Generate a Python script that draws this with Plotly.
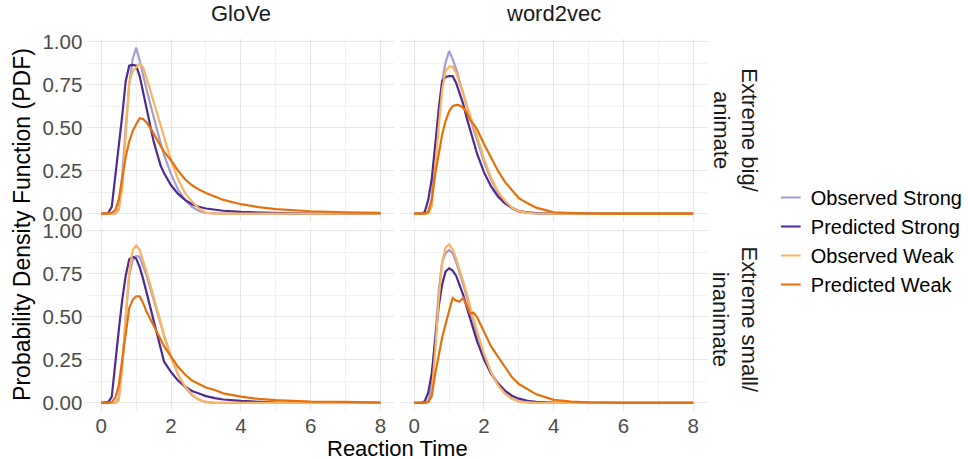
import plotly.graph_objects as go
from plotly.subplots import make_subplots

# ---------------- data ----------------
reaction_time = [0, 0.2, 0.3, 0.4, 0.5, 0.6, 0.7, 0.8, 0.9, 1.0, 1.1, 1.2, 1.3, 1.4, 1.5, 1.6, 1.7, 1.8,
                 2.0, 2.2, 2.4, 2.6, 2.8, 3.0, 3.25, 3.5, 4.0, 4.5, 5.0, 5.5, 6.0, 7.0, 8.0]

models = ["GloVe", "word2vec"]
conditions = ["Extreme big/<br>animate", "Extreme small/<br>inanimate"]
series_names = ["Observed Strong", "Predicted Strong", "Observed Weak", "Predicted Weak"]

# GloVe, Extreme big/animate
glove_big_obs_strong = [0, 0, 0, 0, 0.03, 0.22, 0.5, 0.75, 0.9, 0.965, 0.89, 0.8, 0.72, 0.64, 0.56, 0.48, 0.41, 0.34,
                        0.23, 0.14, 0.08, 0.04, 0.015, 0.004, 0.001, 0, 0, 0, 0, 0, 0, 0, 0]
glove_big_pred_strong = [0, 0.005, 0.04, 0.21, 0.39, 0.57, 0.77, 0.86, 0.865, 0.86, 0.8, 0.7, 0.6, 0.5, 0.42, 0.35, 0.28, 0.235,
                         0.165, 0.115, 0.08, 0.055, 0.04, 0.03, 0.022, 0.017, 0.01, 0.006, 0.003, 0.002, 0.001, 0, 0]
glove_big_obs_weak = [0, 0, 0, 0, 0.02, 0.15, 0.45, 0.76, 0.83, 0.85, 0.872, 0.85, 0.79, 0.72, 0.65, 0.58, 0.51, 0.44,
                      0.31, 0.2, 0.12, 0.07, 0.03, 0.005, 0, 0, 0, 0, 0, 0, 0, 0, 0]
glove_big_pred_weak = [0, 0, 0.005, 0.02, 0.08, 0.22, 0.33, 0.42, 0.48, 0.52, 0.555, 0.55, 0.53, 0.5, 0.465, 0.43, 0.39, 0.36,
                       0.31, 0.25, 0.2, 0.165, 0.14, 0.12, 0.1, 0.08, 0.055, 0.038, 0.026, 0.019, 0.014, 0.008, 0.004]

# word2vec, Extreme big/animate
w2v_big_obs_strong = [0, 0, 0, 0.005, 0.08, 0.35, 0.6, 0.77, 0.88, 0.945, 0.9, 0.84, 0.77, 0.69, 0.62, 0.55, 0.49, 0.43,
                      0.30, 0.2, 0.12, 0.065, 0.03, 0.012, 0.004, 0.001, 0, 0, 0, 0, 0, 0, 0]
w2v_big_pred_strong = [0, 0, 0.01, 0.08, 0.2, 0.42, 0.6, 0.77, 0.795, 0.8, 0.8, 0.76, 0.7, 0.64, 0.56, 0.49, 0.42, 0.35,
                       0.24, 0.16, 0.1, 0.06, 0.035, 0.015, 0.007, 0.003, 0.001, 0, 0, 0, 0, 0, 0]
w2v_big_obs_weak = [0, 0, 0, 0, 0.04, 0.25, 0.5, 0.72, 0.83, 0.855, 0.855, 0.82, 0.76, 0.7, 0.63, 0.57, 0.51, 0.45,
                    0.32, 0.21, 0.13, 0.075, 0.035, 0.015, 0.005, 0.001, 0, 0, 0, 0, 0, 0, 0]
w2v_big_pred_weak = [0, 0, 0, 0.01, 0.08, 0.23, 0.34, 0.46, 0.54, 0.595, 0.625, 0.632, 0.63, 0.615, 0.59, 0.545, 0.52, 0.49,
                     0.405, 0.325, 0.25, 0.185, 0.135, 0.09, 0.06, 0.035, 0.008, 0.003, 0.001, 0, 0, 0, 0]

# GloVe, Extreme small/inanimate
glove_small_obs_strong = [0, 0, 0, 0, 0.03, 0.22, 0.5, 0.74, 0.83, 0.855, 0.85, 0.8, 0.74, 0.67, 0.6, 0.53, 0.46, 0.39,
                          0.27, 0.165, 0.09, 0.045, 0.018, 0.005, 0.001, 0, 0, 0, 0, 0, 0, 0, 0]
glove_small_pred_strong = [0, 0.005, 0.035, 0.21, 0.42, 0.6, 0.74, 0.835, 0.85, 0.84, 0.79, 0.72, 0.64, 0.56, 0.47, 0.39, 0.31, 0.24,
                           0.18, 0.13, 0.095, 0.07, 0.055, 0.04, 0.028, 0.02, 0.012, 0.005, 0.002, 0.001, 0, 0, 0]
glove_small_obs_weak = [0, 0, 0, 0, 0.015, 0.2, 0.5, 0.76, 0.89, 0.915, 0.89, 0.83, 0.76, 0.69, 0.62, 0.55, 0.47, 0.39,
                        0.265, 0.165, 0.095, 0.05, 0.02, 0.006, 0, 0, 0, 0, 0, 0, 0, 0, 0]
glove_small_pred_weak = [0, 0, 0.005, 0.03, 0.1, 0.26, 0.4, 0.55, 0.6, 0.62, 0.62, 0.58, 0.53, 0.49, 0.45, 0.41, 0.37, 0.33,
                         0.27, 0.21, 0.165, 0.13, 0.11, 0.09, 0.075, 0.056, 0.037, 0.024, 0.016, 0.011, 0.008, 0.006, 0.002]

# word2vec, Extreme small/inanimate
w2v_small_obs_strong = [0, 0, 0, 0.01, 0.1, 0.38, 0.65, 0.82, 0.87, 0.89, 0.87, 0.82, 0.76, 0.69, 0.62, 0.55, 0.47, 0.4,
                        0.28, 0.18, 0.105, 0.055, 0.025, 0.01, 0.003, 0, 0, 0, 0, 0, 0, 0, 0]
w2v_small_pred_strong = [0, 0, 0.01, 0.06, 0.17, 0.38, 0.56, 0.69, 0.765, 0.783, 0.77, 0.74, 0.69, 0.63, 0.56, 0.49, 0.43, 0.36,
                         0.254, 0.17, 0.115, 0.072, 0.042, 0.025, 0.013, 0.006, 0.002, 0, 0, 0, 0, 0, 0]
w2v_small_obs_weak = [0, 0, 0, 0.005, 0.05, 0.3, 0.6, 0.82, 0.905, 0.922, 0.895, 0.84, 0.78, 0.71, 0.64, 0.56, 0.49, 0.42,
                      0.285, 0.18, 0.105, 0.055, 0.025, 0.008, 0.002, 0, 0, 0, 0, 0, 0, 0, 0]
w2v_small_pred_weak = [0, 0, 0, 0.005, 0.04, 0.17, 0.28, 0.38, 0.46, 0.53, 0.61, 0.595, 0.59, 0.61, 0.57, 0.52, 0.525, 0.5,
                       0.41, 0.33, 0.27, 0.21, 0.15, 0.11, 0.08, 0.05, 0.018, 0.008, 0.003, 0.001, 0, 0, 0]

x_ticks = [0, 2, 4, 6, 8]
y_ticks = [0, 0.25, 0.5, 0.75, 1.0]

# ---------------- figure ----------------
colors = {"Observed Strong": "#a39dd1", "Predicted Strong": "#4f2b8d",
          "Observed Weak": "#fdb45f", "Predicted Weak": "#e6710c"}

panels = {
    (1, 1): [glove_big_obs_strong, glove_big_pred_strong, glove_big_obs_weak, glove_big_pred_weak],
    (1, 2): [w2v_big_obs_strong, w2v_big_pred_strong, w2v_big_obs_weak, w2v_big_pred_weak],
    (2, 1): [glove_small_obs_strong, glove_small_pred_strong, glove_small_obs_weak, glove_small_pred_weak],
    (2, 2): [w2v_small_obs_strong, w2v_small_pred_strong, w2v_small_obs_weak, w2v_small_pred_weak],
}

FONT = "Liberation Sans, Arial, sans-serif"
fig = make_subplots(rows=2, cols=2)
for (r, c), series in panels.items():
    for name, vals in zip(series_names, series):
        fig.add_trace(go.Scatter(
            x=reaction_time, y=vals, mode="lines", name=name,
            line=dict(color=colors[name], width=2.2),
            legendgroup=name, showlegend=False), row=r, col=c)

# legend entries with short key lines (like ggplot keys)
for name in series_names:
    fig.add_trace(go.Scatter(
        x=[None], y=[None], mode="markers", name=name, legendgroup=name, showlegend=True,
        marker=dict(symbol="line-ew", size=14, color=colors[name],
                    line=dict(color=colors[name], width=2))), row=1, col=1)

W, H = 968, 459
xdom = [[87.7 / W, 396 / W], [402 / W, 710 / W]]
ydom = [[(H - 222) / H, (H - 38.5) / H], [(H - 411.3) / H, (H - 227.8) / H]]

grid_major = "#e6e6e6"
grid_minor = "#f1f1f1"
tickfont = dict(family=FONT, size=20.5, color="#4d4d4d")

for idx, (r, c) in enumerate([(1, 1), (1, 2), (2, 1), (2, 2)]):
    sfx = "" if idx == 0 else str(idx + 1)
    fig.layout["xaxis" + sfx].update(
        domain=xdom[c - 1], range=[-0.4, 8.4], tickvals=x_ticks,
        showticklabels=(r == 2), tickfont=tickfont, showline=False, zeroline=False,
        gridcolor=grid_major, gridwidth=1.3, ticks="", automargin=False,
        minor=dict(tickvals=[1, 3, 5, 7], showgrid=True, gridcolor=grid_minor, gridwidth=1),
        ticklabelstandoff=0)
    fig.layout["yaxis" + sfx].update(
        domain=ydom[r - 1], range=[-0.0485, 1.0185], tickvals=y_ticks, tickformat=".2f",
        showticklabels=(c == 1), tickfont=tickfont, showline=False, zeroline=False,
        gridcolor=grid_major, gridwidth=1.3, ticks="", automargin=False,
        minor=dict(tickvals=[0.125, 0.375, 0.625, 0.875], showgrid=True, gridcolor=grid_minor, gridwidth=1),
        ticklabelstandoff=4)

strip_font = dict(family=FONT, size=22, color="#1a1a1a")
title_font = dict(family=FONT, size=22, color="#000000")
annotations = [
    dict(text=models[0], x=(xdom[0][0] + xdom[0][1]) / 2, y=(H - 14) / H, xref="paper", yref="paper",
         showarrow=False, font=strip_font, xanchor="center", yanchor="middle"),
    dict(text=models[1], x=(xdom[1][0] + xdom[1][1]) / 2, y=(H - 14) / H, xref="paper", yref="paper",
         showarrow=False, font=strip_font, xanchor="center", yanchor="middle"),
    dict(text=conditions[0], x=738 / W, y=(ydom[0][0] + ydom[0][1]) / 2, xref="paper", yref="paper",
         showarrow=False, font=strip_font, textangle=90, xanchor="center", yanchor="middle"),
    dict(text=conditions[1], x=738 / W, y=(ydom[1][0] + ydom[1][1]) / 2, xref="paper", yref="paper",
         showarrow=False, font=strip_font, textangle=90, xanchor="center", yanchor="middle"),
    dict(text="Reaction Time", x=(xdom[0][0] + xdom[1][1]) / 2, y=-3 / H, xref="paper", yref="paper",
         showarrow=False, font=title_font, xanchor="center", yanchor="bottom", borderpad=0),
    dict(text="Probability Density Function (PDF)", x=22 / W, y=(H - 224) / H, xref="paper", yref="paper",
         showarrow=False, font=dict(family=FONT, size=23, color="#000000"), textangle=-90,
         xanchor="center", yanchor="middle"),
]

fig.update_layout(
    width=W, height=H, margin=dict(l=0, r=0, t=0, b=0),
    paper_bgcolor="white", plot_bgcolor="white",
    annotations=annotations,
    legend=dict(x=774 / W, y=(H - 241) / H, xanchor="left", yanchor="middle",
                font=dict(family=FONT, size=20, color="#000000"),
                bgcolor="rgba(0,0,0,0)", tracegroupgap=0, itemsizing="trace"),
)

fig.write_html("out.html")
